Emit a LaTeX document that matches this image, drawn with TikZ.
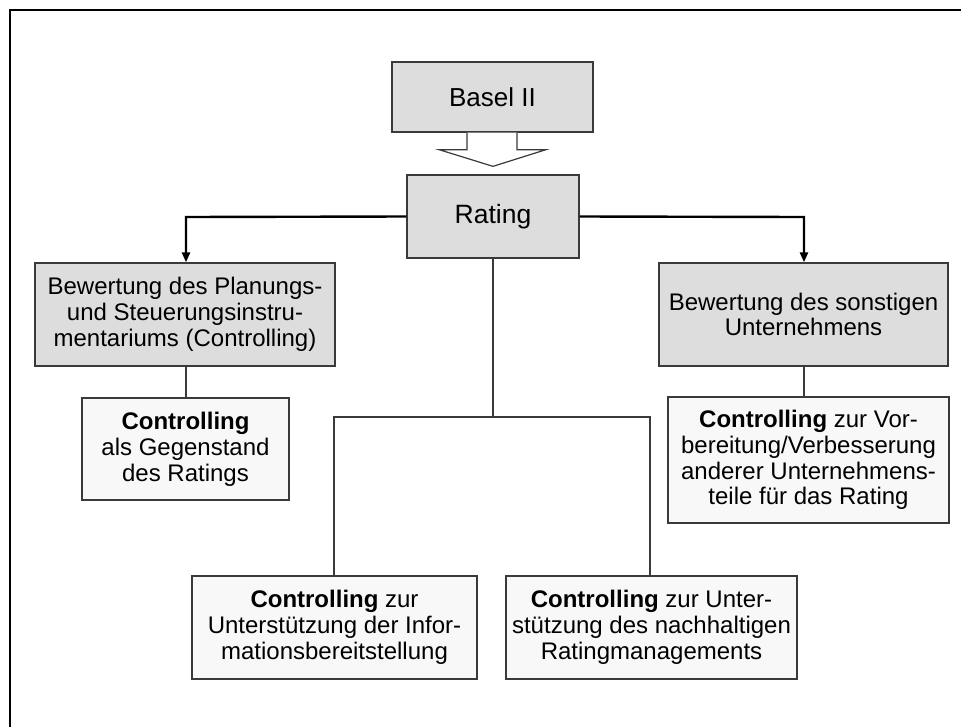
\documentclass[tikz,border=0pt]{standalone}
\usepackage{fontspec}
\setmainfont{Liberation Sans}
\usetikzlibrary{arrows.meta,calc}
\definecolor{boxgray}{HTML}{DDDDDD}
\definecolor{boxlight}{HTML}{F8F8F8}
\definecolor{edge}{HTML}{3A3A3A}
\begin{document}
\begin{tikzpicture}[x=1pt,y=-1pt,
  box/.style={draw=edge,line width=1.3pt,inner sep=0pt,align=center,
    font=\fontsize{24}{25.8}\selectfont},
  graybox/.style={box,fill=boxgray},
  lightbox/.style={box,fill=boxlight},
  thin/.style={draw=edge,line width=1.2pt},
  thick/.style={draw=black,line width=2.4pt},
  tip/.style={-{Triangle[length=10pt,width=8pt]}}]
\useasboundingbox (0,0) rectangle (961,726);
% frame
\draw[line width=2pt] (10,740) -- (10,10) -- (975,10);

% top boxes
\node[graybox,minimum width=201pt,minimum height=70pt,
  font=\fontsize{26}{28}\selectfont] (basel) at (492.5,97) {Basel II};
\node[graybox,minimum width=172pt,minimum height=83pt,
  font=\fontsize{26.5}{28}\selectfont] (rating) at (493,216.5) {Rating};

% block arrow from Basel II to Rating
\draw[edge,line width=1.2pt,fill=white]
  ($(basel.south)+(-25.5,0)$) -- ++(0,17) -- ++(-28,0)
  -- ($(rating.north)+(0,-8)$) -- ($(basel.south)+(53.5,17)$) -- ++(-29,0) -- ++(0,-17);

% second level
\node[graybox,minimum width=300pt,minimum height=103pt] (lbox) at (185,314.5)
  {Bewertung des Planungs-\\und Steuerungsinstru-\\mentariums (Controlling)};
\node[graybox,minimum width=289pt,minimum height=103pt] (rbox) at (803.5,314.5)
  {Bewertung des sonstigen\\Unternehmens};

% third level
\node[lightbox,minimum width=207pt,minimum height=102pt] (lsmall) at (185.5,449)
  {\textbf{Controlling}\\als Gegenstand\\des Ratings};
\node[lightbox,minimum width=281pt,minimum height=126pt] (rsmall) at (808.5,460)
  {\textbf{Controlling} zur Vor-\\bereitung/Verbesserung\\anderer Unternehmens-\\teile f\"ur das Rating};
\node[lightbox,minimum width=285pt,minimum height=103pt] (bl) at (334.5,627.5)
  {\textbf{Controlling} zur\\Unterst\"utzung der Infor-\\mationsbereitstellung};
\node[lightbox,minimum width=291pt,minimum height=103pt] (br) at (651.5,627.5)
  {\textbf{Controlling} zur Unter-\\st\"utzung des nachhaltigen\\Ratingmanagements};

% thick arrows from Rating
\coordinate (lturn) at (186,217);
\coordinate (rturn) at (804,217);
\draw[thick,tip] (rating.west) -- (lturn) -- (lturn |- lbox.north);
\draw[thick,tip] (rating.east) -- (rturn) -- (rturn |- rbox.north);

% thin connectors
\draw[thin] (lturn |- lbox.south) -- (lturn |- lsmall.north);
\draw[thin] (rturn |- rbox.south) -- (rturn |- rsmall.north);
\coordinate (fork) at (493,417);
\coordinate (forkl) at (334,417);
\coordinate (forkr) at (650,417);
\draw[thin] (rating.south) -- (fork);
\draw[thin] (forkl |- bl.north) -- (forkl) -- (forkr) -- (forkr |- br.north);
\end{tikzpicture}
\end{document}
